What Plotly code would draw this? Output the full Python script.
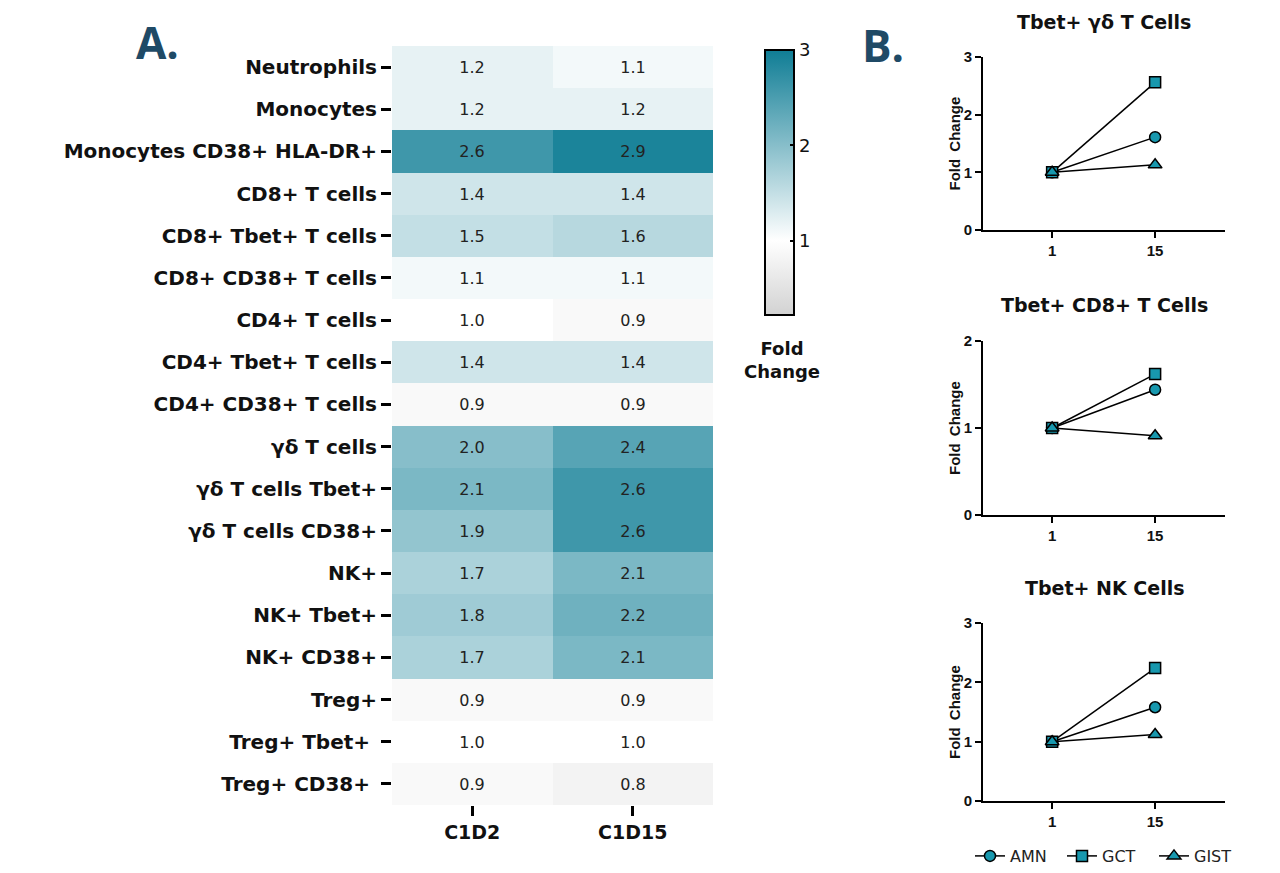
import plotly.graph_objects as go

# ---------------- data ----------------
cell_types = ["Neutrophils", "Monocytes", "Monocytes CD38+ HLA-DR+", "CD8+ T cells",
              "CD8+ Tbet+ T cells", "CD8+ CD38+ T cells", "CD4+ T cells", "CD4+ Tbet+ T cells",
              "CD4+ CD38+ T cells", "γδ T cells", "γδ T cells Tbet+", "γδ T cells CD38+",
              "NK+", "NK+ Tbet+", "NK+ CD38+", "Treg+", "Treg+ Tbet+ ", "Treg+ CD38+ "]
timepoints = ["C1D2", "C1D15"]
c1d2 = [1.2, 1.2, 2.6, 1.4, 1.5, 1.1, 1.0, 1.4, 0.9, 2.0, 2.1, 1.9, 1.7, 1.8, 1.7, 0.9, 1.0, 0.9]
c1d15 = [1.1, 1.2, 2.9, 1.4, 1.6, 1.1, 0.9, 1.4, 0.9, 2.4, 2.6, 2.6, 2.1, 2.2, 2.1, 0.9, 1.0, 0.8]

days = [1, 15]
groups = ["AMN", "GCT", "GIST"]
panel_titles = ["Tbet+ γδ T Cells", "Tbet+ CD8+ T Cells", "Tbet+ NK Cells"]
gd_amn, gd_gct, gd_gist = [1.0, 1.61], [1.0, 2.56], [1.0, 1.13]
cd8_amn, cd8_gct, cd8_gist = [1.0, 1.44], [1.0, 1.62], [1.0, 0.91]
nk_amn, nk_gct, nk_gist = [1.0, 1.58], [1.0, 2.24], [1.0, 1.12]
panel_data = [[gd_amn, gd_gct, gd_gist], [cd8_amn, cd8_gct, cd8_gist], [nk_amn, nk_gct, nk_gist]]
panel_ymax = [3, 2, 3]

FONT = "Liberation Sans, Arial, sans-serif"
WIDE = "DejaVu Sans, Verdana, sans-serif"
TEAL = "#0f7d95"
MARK = "#1898ae"
W, H = 1280, 873

def px(xp):
    return xp / W

def py(yp):
    return 1 - yp / H

fig = go.Figure()

zmin, zmax = 0.22, 3.0
wpos = (1.0 - zmin) / (zmax - zmin)
colorscale = [[0, "#d2d2d2"], [wpos, "#ffffff"], [1, TEAL]]

z = [[a, b] for a, b in zip(c1d2, c1d15)]
fig.add_trace(go.Heatmap(
    x=timepoints, y=cell_types, z=z, zmin=zmin, zmax=zmax,
    colorscale=colorscale, texttemplate="%{z:.1f}",
    textfont=dict(family=WIDE, size=16, color="#222222"),
    xaxis="x", yaxis="y", showlegend=False,
    colorbar=dict(x=px(765), xanchor="left", xpad=0, ypad=0,
                  y=py(182.5), yanchor="middle", len=265, lenmode="pixels",
                  thickness=29, outlinewidth=2, outlinecolor="black",
                  tickvals=[1, 2, 3], ticks="inside", ticklen=5, tickwidth=2,
                  tickcolor="black", tickfont=dict(family=WIDE, size=18, color="#111"))
))

symbols = ["circle", "square", "triangle-up"]
axis_ids = [("x2", "y2"), ("x3", "y3"), ("x4", "y4")]
for i, (xa, ya) in enumerate(axis_ids):
    for g, (name, sym) in enumerate(zip(groups, symbols)):
        fig.add_trace(go.Scatter(
            x=days, y=panel_data[i][g], mode="lines+markers", name=name,
            xaxis=xa, yaxis=ya, showlegend=(i == 0),
            line=dict(color="black", width=1.5),
            marker=dict(symbol=sym, size=11 if sym != "triangle-up" else 12, color=MARK,
                        line=dict(color="black", width=1.5))))

layout = dict(
    width=W, height=H, margin=dict(l=0, r=0, t=0, b=0, autoexpand=False),
    paper_bgcolor="white", plot_bgcolor="white",
    xaxis=dict(domain=[px(392), px(713)], anchor="y", side="bottom",
               ticks="outside", ticklen=10, tickwidth=3, tickcolor="black",
               tickfont=dict(family=WIDE, size=19, color="#111", weight="bold"), showline=False),
    yaxis=dict(domain=[py(805), py(46)], anchor="x", autorange="reversed",
               ticks="outside", ticklen=10, tickwidth=3, tickcolor="black",
               tickfont=dict(family=WIDE, size=20, color="#111", weight="bold"), showline=False),
    legend=dict(orientation="h", x=px(970), y=0, xanchor="left", yanchor="bottom",
                font=dict(family=WIDE, size=16, color="#222"), itemwidth=30,
                entrywidth=47, entrywidthmode="pixels",
                bgcolor="rgba(0,0,0,0)"),
)

ydoms = [(230, 57), (515, 341), (801, 623)]
for i, (xa, ya) in enumerate(axis_ids):
    xk = "xaxis" + xa[1:]
    yk = "yaxis" + ya[1:]
    layout[xk] = dict(domain=[px(983), px(1225)], anchor=ya, range=[-8.4, 24.5],
                      tickvals=days, ticks="outside", ticklen=6, tickwidth=2, tickcolor="black",
                      showline=True, linecolor="black", linewidth=2, showgrid=False, zeroline=False,
                      tickfont=dict(family=FONT, size=15, color="#111", weight="bold"))
    layout[yk] = dict(domain=[py(ydoms[i][0]), py(ydoms[i][1])], anchor=xa,
                      range=[0, panel_ymax[i]], dtick=1, ticks="outside", ticklen=6, tickwidth=2,
                      tickcolor="black", showline=True, linecolor="black", linewidth=2,
                      showgrid=False, zeroline=False,
                      tickfont=dict(family=FONT, size=15, color="#111", weight="bold"))
fig.update_layout(**layout)

def note(text, x, y, size, family, color="#111", angle=0):
    return dict(text=text, x=px(x), y=py(y), xref="paper", yref="paper", showarrow=False,
                xanchor="center", yanchor="middle", textangle=angle,
                font=dict(family=family, size=size, color=color, weight="bold"))

ann = [
    note("A.", 157, 42, 44, "Open Sans, sans-serif", "#1f4a66"),
    note("B.", 883, 45, 44, "Open Sans, sans-serif", "#1f4a66"),
    note("Fold<br>Change", 782, 360, 18, WIDE),
]
title_y = [22, 305, 588]
for i in range(3):
    ann.append(note(panel_titles[i], 1104, title_y[i], 19, WIDE))
    ann.append(note("Fold\u00a0\u2009Change", 954, (ydoms[i][0] + ydoms[i][1]) / 2, 15, FONT, angle=-90))
fig.update_layout(annotations=ann)

fig.write_html("out.html", config={"displayModeBar": False},
               post_script="document.body.style.margin='0';")
